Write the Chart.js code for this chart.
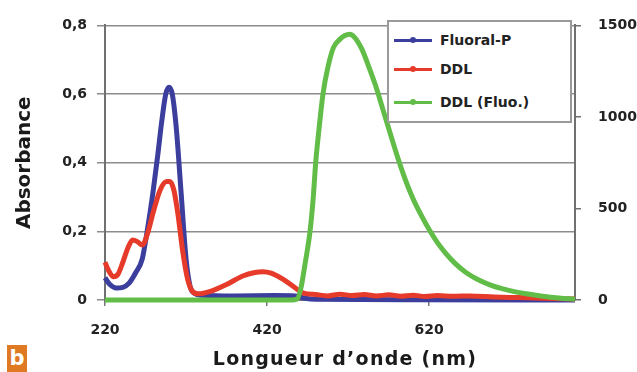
<!DOCTYPE html>
<html>
<head>
<meta charset="utf-8">
<script src="https://cdn.jsdelivr.net/npm/chart.js@4.4.1/dist/chart.umd.min.js"></script>
<style>
  html, body { margin: 0; padding: 0; background: #ffffff; }
  #wrap { position: relative; width: 637px; height: 372px; overflow: hidden; }
  #c { position: absolute; left: 0; top: 0; }
  #legend { position: absolute; left: 387px; top: 20px; width: 181px; height: 99px;
    border: 2px solid #9a9a9a; background: #ffffff; font-family: "DejaVu Sans", sans-serif;
    font-weight: bold; font-size: 14px; color: #222; }
  .item { position: absolute; left: 5px; height: 20px; display: flex; align-items: center; }
  .sw { width: 38px; height: 3px; margin-right: 8px; position: relative; }
  .sw i { position: absolute; left: 16px; top: -2px; width: 6px; height: 6px; border-radius: 3px; }
  #xtitle { position: absolute; left: 145px; width: 400px; top: 347px; text-align: center;
    font-family: "DejaVu Sans", sans-serif; font-weight: bold; font-size: 19px; letter-spacing: 1.25px;
    color: #1a1a1a; line-height: 22px; white-space: nowrap; }
  #tag { position: absolute; left: 7px; top: 345px; width: 20px; height: 27px; background: #e07a22;
    color: #fff; font-family: "DejaVu Sans", sans-serif; font-weight: bold; font-size: 21px;
    line-height: 27px; text-align: center; }
</style>
</head>
<body>
<div id="wrap">
  <canvas id="c" width="637" height="372"></canvas>
  <div id="legend"></div>
  <div id="xtitle"></div>
  <div id="tag">b</div>
</div>
<script>
// ---- data ----
const seriesNames = ['Fluoral-P', 'DDL', 'DDL (Fluo.)'];
const seriesColors = ['#3b3e9c', '#e63b2a', '#62bd48'];
const xAxisTitle = 'Longueur d\u2019onde (nm)';
const yAxisTitle = 'Absorbance';

const fluoralX = [220, 226, 234, 242, 250, 258, 266, 272, 279, 285, 290, 295, 299, 303, 308, 314, 320, 325, 330, 340, 380, 430, 455, 465, 480, 600, 800];
const fluoralY = [0.065, 0.045, 0.035, 0.037, 0.05, 0.08, 0.12, 0.2, 0.31, 0.42, 0.52, 0.6, 0.62, 0.6, 0.5, 0.31, 0.12, 0.04, 0.02, 0.014, 0.012, 0.013, 0.012, 0.006, 0.002, 0.001, 0];

const ddlX = [220, 224, 230, 236, 242, 248, 254, 260, 266, 272, 280, 288, 296, 300, 305, 310, 316, 322, 328, 335, 350, 370, 390, 405, 415, 425, 440, 455, 465, 480, 495, 510, 525, 540, 555, 570, 585, 600, 615, 630, 650, 670, 700, 730, 760, 800];
const ddlY = [0.11, 0.088, 0.068, 0.075, 0.11, 0.15, 0.175, 0.17, 0.16, 0.19, 0.26, 0.32, 0.345, 0.345, 0.32, 0.25, 0.14, 0.06, 0.025, 0.018, 0.025, 0.045, 0.07, 0.08, 0.082, 0.078, 0.06, 0.035, 0.02, 0.016, 0.012, 0.017, 0.013, 0.016, 0.012, 0.015, 0.011, 0.014, 0.01, 0.013, 0.011, 0.012, 0.009, 0.007, 0.005, 0.003];

const fluoX = [220, 300, 400, 450, 457, 462, 467, 473, 477, 480, 484, 489, 495, 502, 510, 516, 522, 528, 537, 545, 554, 563, 572, 580, 590, 600, 610, 620, 630, 640, 652, 665, 680, 695, 710, 725, 740, 760, 780, 800];
const fluoY = [0, 0, 0, 0, 5, 70, 200, 375, 560, 750, 930, 1125, 1270, 1380, 1425, 1445, 1452, 1435, 1370, 1280, 1170, 1040, 910, 795, 665, 555, 465, 385, 315, 258, 200, 152, 112, 83, 62, 46, 34, 21, 11, 4];

const xTickLabels = ['220', '420', '620'];
const leftTickLabels = ['0', '0,2', '0,4', '0,6', '0,8'];
const rightTickLabels = ['0', '500', '1000', '1500'];

// ---- chart ----
function pts(xs, ys) { return xs.map((x, i) => ({x: x, y: ys[i]})); }

const FONT = '"DejaVu Sans", sans-serif';

const datasets = [
  { label: seriesNames[0], data: pts(fluoralX, fluoralY), yAxisID: 'y', order: 3 },
  { label: seriesNames[1], data: pts(ddlX, ddlY), yAxisID: 'y', order: 2 },
  { label: seriesNames[2], data: pts(fluoX, fluoY), yAxisID: 'y1', order: 1 }
].map((d, i) => Object.assign(d, {
  borderColor: seriesColors[i], backgroundColor: seriesColors[i],
  borderWidth: 5, pointRadius: 0, cubicInterpolationMode: 'monotone', clip: false
}));

new Chart(document.getElementById('c'), {
  type: 'line',
  data: { datasets: datasets },
  options: {
    responsive: false, animation: false, devicePixelRatio: 1,
    layout: { padding: { top: 22, left: 0, right: 0, bottom: 0 } },
    plugins: { legend: { display: false }, tooltip: { enabled: false } },
    scales: {
      x: {
        type: 'linear', min: 220, max: 800,
        afterBuildTicks: (s) => { s.ticks = xTickLabels.map(v => ({ value: Number(v) })); },
        afterFit: (s) => { s.height = 72; },
        ticks: { padding: 16, color: '#222', font: { family: FONT, weight: 'bold', size: 14 },
                 callback: (v, i) => xTickLabels[i] },
        grid: { drawOnChartArea: false, tickLength: 6, color: '#777', lineWidth: 1.5 },
        border: { display: true, color: '#777', width: 2 }
      },
      y: {
        position: 'left', min: 0, max: 0.8,
        afterBuildTicks: (s) => { s.ticks = leftTickLabels.map(v => ({ value: Number(v.replace(',', '.')) })); },
        afterFit: (s) => { s.width = 105; },
        ticks: { padding: 10, color: '#222', font: { family: FONT, weight: 'bold', size: 14 },
                 callback: (v, i) => leftTickLabels[i] },
        grid: { color: '#8c8c8c', lineWidth: 1.5, tickLength: 8 },
        border: { display: true, color: '#707070', width: 2 },
        title: { display: true, text: yAxisTitle, color: '#1a1a1a',
                 font: { family: FONT, weight: 'bold', size: 20 }, padding: { top: 13, bottom: 0 } }
      },
      y1: {
        position: 'right', min: 0, max: 1500,
        afterBuildTicks: (s) => { s.ticks = rightTickLabels.map(v => ({ value: Number(v) })); },
        afterFit: (s) => { s.width = 62; },
        ticks: { padding: 17, color: '#222', font: { family: FONT, weight: 'bold', size: 14 },
                 callback: (v, i) => rightTickLabels[i] },
        grid: { drawOnChartArea: false, tickLength: 6, color: '#707070', lineWidth: 1.5 },
        border: { display: true, color: '#707070', width: 2 }
      }
    }
  }
});

document.getElementById('xtitle').textContent = xAxisTitle;

// ---- HTML legend built from the series ----
const legend = document.getElementById('legend');
const rowTops = [8, 37, 70];
seriesNames.forEach((name, i) => {
  const it = document.createElement('div');
  it.className = 'item';
  it.style.top = rowTops[i] + 'px';
  const sw = document.createElement('span');
  sw.className = 'sw';
  sw.style.background = seriesColors[i];
  const dot = document.createElement('i');
  dot.style.background = seriesColors[i];
  sw.appendChild(dot);
  const t = document.createElement('span');
  t.textContent = name;
  it.appendChild(sw);
  it.appendChild(t);
  legend.appendChild(it);
});
</script>
</body>
</html>
